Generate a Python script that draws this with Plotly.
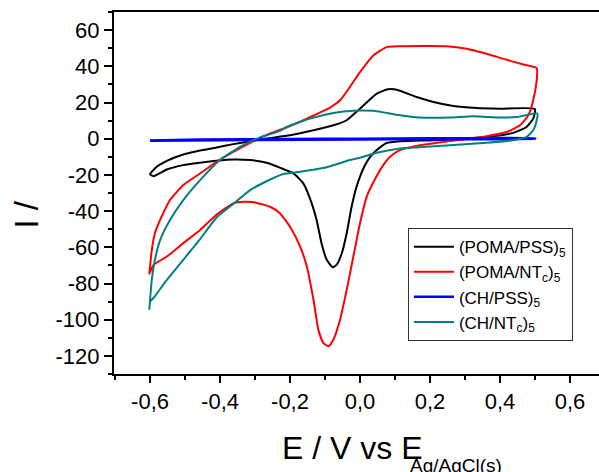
import plotly.graph_objects as go

# ---- data (E in V, I in µA) ----
poma_pss_x = [-0.600, -0.581, -0.552, -0.505, -0.457, -0.410, -0.362, -0.314, -0.267, -0.200,
              -0.133, -0.076, -0.038, 0.000, 0.048, 0.080, 0.105, 0.162, 0.210, 0.267,
              0.333, 0.400, 0.500,
              0.495, 0.476, 0.438, 0.381, 0.305, 0.210, 0.114, 0.076, 0.048, 0.029,
              0.012, -0.010, -0.024, -0.038, -0.052, -0.067, -0.078, -0.095, -0.110, -0.124,
              -0.138, -0.162, -0.190, -0.229, -0.267, -0.314, -0.362, -0.410, -0.457, -0.505,
              -0.552, -0.590, -0.600]
poma_pss_y = [-19.7, -15.5, -12.2, -8.7, -6.5, -4.9, -3.0, -1.4, 0.1, 1.9,
              4.7, 7.4, 10.2, 16.6, 24.9, 27.3, 27.1, 23.0, 20.3, 18.1,
              17.0, 16.6, 16.4,
              11.1, 6.5, 3.2, 1.4, 0.1, -0.8, -1.4, -2.4, -6.3, -10.0,
              -15.5, -26.6, -37.6, -52.2, -63.3, -69.7, -71.0, -66.9, -57.7, -44.9,
              -35.7, -24.7, -19.2, -16.0, -13.3, -11.8, -11.5, -12.2, -13.3, -14.6,
              -17.0, -20.7, -19.7]

poma_nt_x = [-0.602, -0.600, -0.595, -0.586, -0.567, -0.543, -0.505, -0.457, -0.410, -0.362,
             -0.314, -0.257, -0.210, -0.152, -0.086, -0.057, -0.029, 0.000, 0.038, 0.076,
             0.114, 0.248, 0.305, 0.362, 0.419, 0.467, 0.505,
             0.505, 0.495, 0.481, 0.457, 0.419, 0.362, 0.295, 0.219, 0.171, 0.114,
             0.086, 0.067, 0.048, 0.019, 0.000, -0.019, -0.038, -0.057, -0.076, -0.090,
             -0.105, -0.119, -0.133, -0.152, -0.171, -0.200, -0.229, -0.257, -0.300, -0.330,
             -0.362, -0.410, -0.457, -0.505, -0.552, -0.590, -0.602]
poma_nt_y = [-74.7, -70.6, -61.4, -52.2, -43.1, -33.9, -25.6, -19.2, -12.8, -7.3,
             -2.3, 2.9, 6.2, 11.1, 17.2, 21.2, 28.5, 36.8, 46.0, 50.6,
             51.1, 51.1, 49.7, 46.9, 43.6, 41.0, 39.0,
             32.2, 21.2, 12.9, 7.4, 3.7, 1.4, -0.4, -2.3, -3.6, -6.3,
             -10.0, -14.5, -20.5, -32.1, -46.7, -65.1, -83.5, -100.0, -111.0, -114.7,
             -112.8, -105.5, -89.0, -70.6, -59.6, -48.6, -41.2, -37.6, -35.2, -34.9,
             -35.7, -42.0, -50.4, -57.7, -65.1, -69.7, -74.7]

ch_pss_x = [-0.600, -0.457, -0.200, 0.000, 0.200, 0.500, 0.500, 0.200, 0.000, -0.300, -0.600]
ch_pss_y = [-1.0, -0.5, -0.1, 0.0, 0.2, 0.2, 0.0, -0.3, -0.4, -0.7, -1.2]

ch_nt_x = [-0.602, -0.600, -0.595, -0.586, -0.571, -0.543, -0.505, -0.457, -0.400, -0.343,
           -0.286, -0.229, -0.210, -0.143, -0.076, -0.019, 0.038, 0.114, 0.171, 0.257,
           0.324, 0.400, 0.448, 0.507,
           0.505, 0.495, 0.476, 0.438, 0.362, 0.257, 0.190, 0.114, 0.048, 0.000,
           -0.029, -0.095, -0.171, -0.219, -0.267, -0.314, -0.362, -0.410, -0.457, -0.505,
           -0.552, -0.590, -0.600]
ch_nt_y = [-94.5, -89.0, -78.0, -66.9, -55.9, -44.9, -33.9, -22.9, -11.8, -4.5,
           0.7, 4.3, 6.5, 11.1, 14.2, 15.5, 15.4, 12.9, 11.7, 11.7,
           12.4, 11.7, 12.0, 13.9,
           10.2, 4.7, 1.0, -0.8, -2.3, -3.6, -4.5, -5.4, -7.8, -10.5,
           -11.8, -15.8, -18.3, -19.5, -23.5, -28.4, -36.0, -43.5, -55.5, -66.9,
           -78.0, -88.0, -90.0]

names = ["(POMA/PSS)<sub>5</sub>", "(POMA/NT<sub>c</sub>)<sub>5</sub>",
         "(CH/PSS)<sub>5</sub>", "(CH/NT<sub>c</sub>)<sub>5</sub>"]
colors = ["#000000", "#ff0000", "#0000ff", "#008080"]

x_ticks = [-0.6, -0.4, -0.2, 0.0, 0.2, 0.4, 0.6]
x_ticktext = ["-0,6", "-0,4", "-0,2", "0,0", "0,2", "0,4", "0,6"]
y_ticks = [-120, -100, -80, -60, -40, -20, 0, 20, 40, 60]
y_ticktext = ["-120", "-100", "-80", "-60", "-40", "-20", "0", "20", "40", "60"]

FONT = "Liberation Sans, Arial, sans-serif"

fig = go.Figure()
series = [(poma_pss_x, poma_pss_y), (poma_nt_x, poma_nt_y), (ch_pss_x, ch_pss_y), (ch_nt_x, ch_nt_y)]
for i, (xs, ys) in enumerate(series):
    fig.add_trace(go.Scatter(x=xs, y=ys, mode="lines", name=names[i], legendgroup=f"g{i}",
                             line=dict(color=colors[i], width=2.5 if i == 2 else 2,
                                       shape="spline", smoothing=0.5)))

fig.update_layout(
    width=599, height=472,
    margin=dict(l=114, r=0, t=12, b=98),
    paper_bgcolor="white", plot_bgcolor="white",
    font=dict(family=FONT, color="black"),
    showlegend=True,
    legend=dict(x=0.606, y=0.403, xanchor="left", yanchor="top",
                bordercolor="#333333", borderwidth=1, bgcolor="white",
                font=dict(size=17, family=FONT), tracegroupgap=6, itemwidth=40,
                traceorder="normal"),
    xaxis=dict(range=[-0.703, 0.683], showgrid=False, zeroline=False,
               showline=True, linecolor="black", linewidth=2, mirror=True,
               ticks="outside", ticklen=7, tickwidth=2, tickcolor="black",
               tickvals=x_ticks, ticktext=x_ticktext, tickfont=dict(size=22),
               minor=dict(ticks="outside", ticklen=4, tickwidth=2, tickcolor="black",
                          tickvals=[-0.7, -0.5, -0.3, -0.1, 0.1, 0.3, 0.5])),
    yaxis=dict(range=[-130, 70], showgrid=False, zeroline=False,
               showline=True, linecolor="black", linewidth=2, mirror=False,
               ticks="outside", ticklen=8, tickwidth=2, tickcolor="black",
               tickvals=y_ticks, ticktext=y_ticktext, tickfont=dict(size=22),
               minor=dict(ticks="outside", ticklen=4, tickwidth=2, tickcolor="black",
                          tickvals=[-130, -110, -90, -70, -50, -30, -10, 10, 30, 50, 70])),
    annotations=[
        dict(text="E / V vs E", xref="paper", yref="paper", x=0.491, y=-0.205,
             xanchor="center", yanchor="middle", showarrow=False,
             font=dict(size=32, family=FONT)),
        dict(text="Ag/AgCl(s)", xref="paper", yref="paper", x=0.706, y=-0.252,
             xanchor="center", yanchor="middle", showarrow=False,
             font=dict(size=19, family=FONT)),
        dict(text="I /", xref="paper", yref="paper", x=-0.181, y=0.441,
             xanchor="center", yanchor="middle", showarrow=False, textangle=-90,
             font=dict(size=33, family=FONT)),
    ],
)

fig.write_html("out.html", config={"displayModeBar": False},
               post_script="document.body.style.margin='0';document.body.style.overflow='hidden';")
